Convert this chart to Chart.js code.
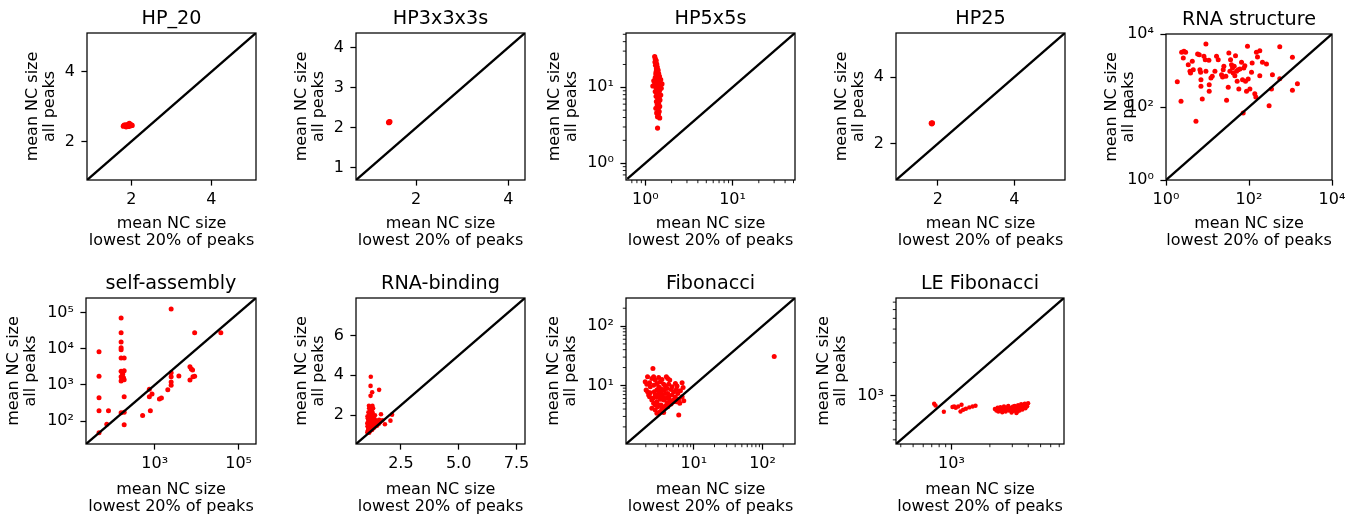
<!DOCTYPE html>
<html>
<head>
<meta charset="utf-8">
<script src="https://cdn.jsdelivr.net/npm/chart.js@4.4.1/dist/chart.umd.min.js"></script>
<style>
  html, body { margin: 0; padding: 0; background: #fff; }
  #fig { position: relative; width: 1359px; height: 517px; overflow: hidden; background: #fff; }
  #fig canvas { position: absolute; }
</style>
</head>
<body>
<div id="fig"></div>
<script>
// ---------------- data: mean NC size, lowest 20% of peaks (x) vs all peaks (y) ----------------
const hp20X = [1.80, 1.82, 1.84, 1.86, 1.88, 1.90, 1.92, 1.94, 1.96, 1.98, 2.00, 2.02, 1.87, 1.93, 1.95];
const hp20Y = [2.44, 2.47, 2.45, 2.48, 2.44, 2.46, 2.49, 2.47, 2.50, 2.45, 2.48, 2.46, 2.42, 2.43, 2.52];

const hp333X = [1.42, 1.43, 1.41];
const hp333Y = [2.14, 2.15, 2.13];

const hp5X = [1.28, 1.30, 1.33, 1.29, 1.35, 1.31, 1.37, 1.34, 1.40, 1.33, 1.42, 1.36, 1.45, 1.30, 1.39, 1.50, 1.25,
  1.44, 1.35, 1.55, 1.28, 1.41, 1.22, 1.48, 1.33, 1.52, 1.38, 1.45, 1.30, 1.42, 1.36, 1.50, 1.33, 1.44, 1.39, 1.47,
  1.34, 1.42, 1.37, 1.46, 1.32, 1.40, 1.44, 1.35, 1.41, 1.38, 1.46, 1.36, 1.43, 1.32, 1.38];
const hp5Y = [25.5, 23.8, 22.5, 21.5, 20.2, 19.5, 18.5, 17.6, 16.8, 16.0, 15.2, 14.4, 13.9, 13.4, 13.1, 12.6, 12.2,
  11.8, 11.4, 11.1, 10.9, 10.7, 10.4, 10.2, 9.9, 9.7, 9.3, 9.0, 8.8, 8.5, 8.2, 7.9, 7.6, 7.4, 7.1, 6.8,
  6.5, 6.2, 5.9, 5.6, 5.3, 5.1, 4.8, 4.6, 4.4, 4.1, 3.95, 12.0, 10.0, 15.0, 2.9];

const hp25X = [1.83, 1.85, 1.84];
const hp25Y = [2.61, 2.62, 2.60];

const rnaStructX = [1.87, 2.30, 2.38, 2.61, 2.71, 2.97, 3.44, 3.78, 3.90, 4.30,
  4.54, 5.27, 5.78, 6.33, 6.57, 6.82, 6.95, 6.95, 7.48, 8.20,
  9.16, 9.16, 8.83, 10.8, 11.0, 11.0, 12.1, 13.0, 15.1, 16.5,
  18.1, 21.8, 23.1, 23.9, 24.8, 27.7, 28.8, 31.6, 32.7, 34.6,
  35.9, 37.9, 40.1, 41.6, 44.0, 45.6, 47.3, 50.1, 51.9, 54.9,
  56.9, 60.2, 66.0, 69.8, 72.4, 75.1, 79.4, 82.4, 87.1, 92.0,
  95.5, 105, 115, 119, 138, 146, 151, 160, 182, 182,
  211, 264, 305, 348, 367, 551, 551, 1112, 1112, 1467];
const rnaStructY = [494, 143, 3147, 2200, 3350, 3147, 1445, 949, 855, 1783,
  1054, 41, 2832, 2716, 1054, 891, 561, 368, 166, 2443,
  5321, 949, 1982, 1900, 409, 269, 623, 692, 949, 2443,
  1982, 769, 664, 1054, 1300, 692, 152, 346, 3016, 949,
  1982, 1445, 1171, 855, 1300, 722, 2548, 949, 505, 1054,
  311, 1099, 1675, 561, 68, 1171, 1357, 505, 269, 4592,
  585, 311, 891, 1605, 232, 188, 3147, 2344, 3494, 722,
  1675, 1507, 109, 311, 769, 4500, 597, 2295, 286, 436];

const selfAsmX = [47, 47, 47, 47, 47, 79, 72, 158, 158, 158, 158, 158, 158, 187,
  158, 187, 172, 158, 180, 165, 158, 187, 172, 187, 187, 158, 187,
  2466, 8960, 37700, 745, 745, 863, 787, 515, 1294, 1445, 2051,
  2466, 2466, 2466, 2466, 3767, 6918, 7447, 8000, 6918, 8166, 8960];
const selfAsmY = [8370, 1738, 443, 192, 47, 192, 81, 72800, 28300, 15700, 10800, 9500, 5620, 5620,
  2400, 2500, 1970, 1700, 1600, 1440, 1295, 1400, 2100, 473, 176, 169, 79,
  128000, 28300, 28300, 766, 473, 559, 192, 143, 408, 434, 735,
  2188, 1700, 1216, 986, 1775, 3190, 2800, 2600, 1377, 1700, 1750];

const rnaBindX = [1.20, 1.19, 1.26, 1.19, 1.56, 1.12, 1.27, 1.64, 2.12, 2.05, 1.81, 1.56,
  1.05, 1.08, 1.10, 1.06, 1.12, 1.09, 1.14, 1.07, 1.11, 1.15, 1.10, 1.18, 1.22,
  1.16, 1.20, 1.18, 1.22, 1.19, 1.24, 1.21, 1.26, 1.23, 1.28, 1.25, 1.30,
  1.28, 1.32, 1.30, 1.34, 1.31, 1.36, 1.33, 1.38, 1.40, 1.43, 1.45, 1.42,
  1.48, 1.52, 1.55, 1.60, 1.35, 1.13, 1.25, 1.17, 1.13, 1.09, 1.15, 1.27,
  1.37, 1.46, 1.70, 1.20, 1.05, 1.06];
const rnaBindY = [3.93, 3.47, 3.15, 2.97, 3.27, 2.47, 2.47, 2.05, 2.03, 1.73, 1.55, 1.77,
  1.15, 1.25, 1.35, 1.45, 1.55, 1.65, 1.75, 1.85, 1.95, 2.05, 2.15, 2.25, 2.40,
  1.20, 1.30, 1.42, 1.52, 1.62, 1.72, 1.82, 1.92, 2.02, 2.12, 2.22, 2.35,
  1.32, 1.40, 1.50, 1.60, 1.70, 1.80, 1.90, 2.00, 1.45, 1.55, 1.65, 1.75,
  1.50, 1.60, 1.58, 1.65, 1.38, 1.12, 1.26, 1.92, 2.35, 1.78, 1.48, 1.60,
  1.52, 1.48, 1.75, 2.10, 1.60, 1.95];

const fibX = [2.54, 2.12, 2.27, 2.07, 2.45, 2.60, 2.75, 2.90, 3.08, 3.25, 3.44, 3.64, 3.98, 4.17, 4.46, 4.31,
  5.39, 5.70, 6.75, 6.98, 6.38, 5.83, 5.09, 4.66, 4.07, 3.72, 3.25, 2.90, 2.66, 2.32, 2.12, 2.27,
  2.54, 2.75, 3.08, 3.44, 3.85, 4.31, 4.82, 5.39, 6.03, 6.75, 7.14, 6.24, 5.09, 4.56, 4.07, 3.64,
  3.25, 2.90, 2.60, 2.45, 2.75, 2.97, 3.33, 3.72, 4.17, 4.66, 5.58, 3.64, 3.25, 2.90, 6.03, 3.85,
  5.09, 148, 2.32, 2.60, 3.08, 3.44, 3.85, 4.82, 2.85, 3.19, 3.56, 3.98, 4.46, 3.08, 3.44, 2.75,
  2.45, 2.20, 2.02, 1.96, 3.33, 4.17, 5.58];
const fibY = [19.3, 13.97, 11.1, 10.5, 13.1, 14.0, 12.3, 10.8, 13.6, 11.5, 12.6, 10.5, 14.0, 13.1, 12.3, 10.5,
  10.8, 9.75, 11.1, 9.26, 8.14, 7.34, 7.83, 8.57, 8.91, 8.35, 8.91, 8.35, 7.83, 7.53, 7.83, 6.46,
  6.05, 6.89, 7.34, 6.89, 7.34, 6.46, 6.89, 6.29, 5.82, 6.46, 5.53, 4.99, 5.32, 4.99, 5.12, 5.68,
  5.82, 5.32, 4.99, 4.12, 3.86, 4.39, 4.68, 4.12, 4.39, 4.87, 5.32, 3.48, 3.62, 3.40, 3.18, 4.51,
  5.68, 30.6, 9.5, 10.1, 9.5, 8.57, 9.75, 9.5, 6.29, 6.62, 6.29, 6.05, 5.68, 4.68, 4.12, 4.68,
  5.68, 6.89, 8.35, 11.5, 7.83, 7.34, 8.57];

const leFibX = [731, 749, 871, 1018, 1049, 1081, 1199, 1177, 1235, 1297, 1378, 1463, 1543, 1128,
  2190, 2250, 2300, 2330, 2380, 2420, 2470, 2500, 2540, 2580, 2620, 2660, 2700, 2740, 2790, 2820,
  2860, 2900, 2960, 3000, 3050, 3100, 3140, 3180, 3230, 3280, 3330, 3380, 3420, 3470, 3520, 3550,
  3600, 3650, 3700, 3760, 3800, 3860, 3920, 3990, 3300, 3450, 2640, 2950, 3150, 3700, 3580, 2430,
  3050, 3250];
const leFibY = [847, 818, 717, 791, 801, 780, 830, 721, 747, 764, 785, 801, 813, 801,
  760, 735, 780, 720, 755, 790, 740, 710, 770, 800, 745, 720, 785, 760, 810, 735,
  775, 750, 705, 790, 730, 770, 810, 745, 700, 780, 820, 760, 735, 800, 840, 775,
  750, 815, 790, 850, 770, 830, 805, 855, 720, 760, 770, 760, 740, 830, 805, 760,
  800, 750];

// ---------------- tick values and labels ----------------
const hp20Ticks = [2, 4];
const hp20TickLabels = ['2', '4'];
const hp333XTicks = [2, 4];
const hp333XTickLabels = ['2', '4'];
const hp333YTicks = [1, 2, 3, 4];
const hp333YTickLabels = ['1', '2', '3', '4'];
const hp5Ticks = [1, 10];
const hp5TickLabels = ['10⁰', '10¹'];
const hp5MinorTicks = [0.7, 0.8, 0.9, 2, 3, 4, 5, 6, 7, 8, 9, 20, 30, 40, 50];
const hp25Ticks = [2, 4];
const hp25TickLabels = ['2', '4'];
const rnaStructTicks = [1, 100, 10000];
const rnaStructTickLabels = ['10⁰', '10²', '10⁴'];
const selfAsmXTicks = [1000, 100000];
const selfAsmXTickLabels = ['10³', '10⁵'];
const selfAsmYTicks = [100, 1000, 10000, 100000];
const selfAsmYTickLabels = ['10²', '10³', '10⁴', '10⁵'];
const rnaBindXTicks = [2.5, 5, 7.5];
const rnaBindXTickLabels = ['2.5', '5.0', '7.5'];
const rnaBindYTicks = [2, 4, 6];
const rnaBindYTickLabels = ['2', '4', '6'];
const fibTicks = [10, 100];
const fibTickLabels = ['10¹', '10²'];
const fibMinorTicks = [2, 3, 4, 5, 6, 7, 8, 9, 20, 30, 40, 50, 60, 70, 80, 90, 200];
const leFibTicks = [1000];
const leFibTickLabels = ['10³'];
const leFibMinorTicks = [400, 500, 600, 700, 800, 900, 2000, 3000, 4000, 5000, 6000, 7000];

const xTitle = ['mean NC size', 'lowest 20% of peaks'];
const yTitle = ['mean NC size', 'all peaks'];

// ---------------- panels ----------------
const panels = [
  { title: 'HP_20', log: false, min: 0.89, max: 5.12, x: hp20X, y: hp20Y,
    xTicks: hp20Ticks, xLabels: hp20TickLabels, yTicks: hp20Ticks, yLabels: hp20TickLabels,
    left: 87, top: 33, w: 169, h: 147, wy: 63, hx: 70, r: 2.6 },
  { title: 'HP3x3x3s', log: false, min: 0.70, max: 4.36, x: hp333X, y: hp333Y,
    xTicks: hp333XTicks, xLabels: hp333XTickLabels, yTicks: hp333YTicks, yLabels: hp333YTickLabels,
    left: 356, top: 33, w: 169, h: 147, wy: 63, hx: 70, r: 2.8 },
  { title: 'HP5x5s', log: true, min: 0.62, max: 52, x: hp5X, y: hp5Y,
    xTicks: hp5Ticks, xLabels: hp5TickLabels, yTicks: hp5Ticks, yLabels: hp5TickLabels,
    minorX: hp5MinorTicks, minorY: hp5MinorTicks,
    left: 626, top: 33, w: 169, h: 147, wy: 80, hx: 70, r: 2.6 },
  { title: 'HP25', log: false, min: 0.90, max: 5.33, x: hp25X, y: hp25Y,
    xTicks: hp25Ticks, xLabels: hp25TickLabels, yTicks: hp25Ticks, yLabels: hp25TickLabels,
    left: 896, top: 33, w: 169, h: 147, wy: 63, hx: 70, r: 2.8 },
  { title: 'RNA structure', log: true, min: 1, max: 10000, x: rnaStructX, y: rnaStructY,
    xTicks: rnaStructTicks, xLabels: rnaStructTickLabels, yTicks: rnaStructTicks, yLabels: rnaStructTickLabels,
    left: 1166, top: 34, w: 166, h: 146, wy: 63, hx: 70, r: 2.5 },
  { title: 'self-assembly', log: true, min: 23, max: 260000, x: selfAsmX, y: selfAsmY,
    xTicks: selfAsmXTicks, xLabels: selfAsmXTickLabels, yTicks: selfAsmYTicks, yLabels: selfAsmYTickLabels,
    left: 86, top: 298, w: 170, h: 146, wy: 81, hx: 72, r: 2.5 },
  { title: 'RNA-binding', log: false, min: 0.56, max: 7.87, x: rnaBindX, y: rnaBindY,
    xTicks: rnaBindXTicks, xLabels: rnaBindXTickLabels, yTicks: rnaBindYTicks, yLabels: rnaBindYTickLabels,
    left: 356, top: 298, w: 169, h: 146, wy: 63, hx: 72, r: 2.3 },
  { title: 'Fibonacci', log: true, min: 1.03, max: 297, x: fibX, y: fibY,
    xTicks: fibTicks, xLabels: fibTickLabels, yTicks: fibTicks, yLabels: fibTickLabels,
    minorX: fibMinorTicks, minorY: fibMinorTicks,
    left: 626, top: 298, w: 169, h: 146, wy: 81, hx: 72, r: 2.5 },
  { title: 'LE Fibonacci', log: true, min: 367, max: 7630, x: leFibX, y: leFibY,
    xTicks: leFibTicks, xLabels: leFibTickLabels, yTicks: leFibTicks, yLabels: leFibTickLabels,
    minorX: leFibMinorTicks, minorY: leFibMinorTicks,
    left: 896, top: 298, w: 168, h: 146, wy: 81, hx: 72, r: 2.2 }
];

// ---------------- drawing ----------------
Chart.defaults.font.family = "'DejaVu Sans', sans-serif";
Chart.defaults.color = '#000';

const TITLE_H = 25;   // 22px line + 3px gap under the title
const RIGHT_PAD = 22;
const TICK_LEN = 5.6;

// full box around the plotting area
const framePlugin = {
  id: 'frame',
  afterDatasetsDraw(chart) {
    const { ctx, chartArea: a } = chart;
    ctx.save();
    ctx.strokeStyle = '#000';
    ctx.lineWidth = 1.25;
    ctx.strokeRect(a.left, a.top, a.right - a.left, a.bottom - a.top);
    ctx.restore();
  }
};

// short unlabeled ticks between decades on log axes
const minorTicksPlugin = {
  id: 'minorTicks',
  afterDraw(chart, args, opts) {
    const { ctx, chartArea: a, scales } = chart;
    ctx.save();
    ctx.strokeStyle = '#000';
    ctx.lineWidth = 0.9;
    ctx.beginPath();
    (opts.x || []).forEach(v => {
      const px = scales.x.getPixelForValue(v);
      if (px < a.left - 0.5 || px > a.right + 0.5) return;
      ctx.moveTo(px, a.bottom);
      ctx.lineTo(px, a.bottom + 3.2);
    });
    (opts.y || []).forEach(v => {
      const py = scales.y.getPixelForValue(v);
      if (py < a.top - 0.5 || py > a.bottom + 0.5) return;
      ctx.moveTo(a.left, py);
      ctx.lineTo(a.left - 3.2, py);
    });
    ctx.stroke();
    ctx.restore();
  }
};

function axisOptions(p, isX) {
  const ticks = isX ? p.xTicks : p.yTicks;
  const labels = isX ? p.xLabels : p.yLabels;
  return {
    type: p.log ? 'logarithmic' : 'linear',
    position: isX ? 'bottom' : 'left',
    min: p.min,
    max: p.max,
    afterBuildTicks: s => { s.ticks = ticks.map(v => ({ value: v })); },
    afterFit: s => { if (isX) s.height = p.hx; else s.width = p.wy; },
    ticks: {
      callback: (v, i) => labels[i],
      font: { size: 16 },
      color: '#000',
      padding: isX ? 4.5 : 6.5,
      maxRotation: 0,
      autoSkip: false
    },
    grid: {
      display: true,
      drawOnChartArea: false,
      drawTicks: true,
      tickLength: TICK_LEN,
      tickColor: '#000',
      tickWidth: 1.25
    },
    border: { display: false },
    title: {
      display: true,
      text: isX ? xTitle : yTitle,
      font: { size: 16, lineHeight: '17.5px' },
      color: '#000',
      padding: 0
    }
  };
}

const fig = document.getElementById('fig');

panels.forEach(p => {
  const canvas = document.createElement('canvas');
  const W = p.wy + p.w + RIGHT_PAD;
  const H = TITLE_H + p.h + p.hx;
  canvas.width = W;
  canvas.height = H;
  canvas.style.width = W + 'px';
  canvas.style.height = H + 'px';
  canvas.style.left = (p.left - p.wy) + 'px';
  canvas.style.top = (p.top - TITLE_H) + 'px';
  fig.appendChild(canvas);

  const points = p.x.map((v, i) => ({ x: v, y: p.y[i] }));

  new Chart(canvas, {
    type: 'scatter',
    data: {
      datasets: [
        {
          type: 'line',
          data: [{ x: p.min, y: p.min }, { x: p.max, y: p.max }],
          borderColor: '#000',
          borderWidth: 2.4,
          pointRadius: 0,
          fill: false,
          order: 0,
          clip: 0
        },
        {
          data: points,
          backgroundColor: '#ff0000',
          borderWidth: 0,
          pointRadius: p.r,
          pointHoverRadius: p.r,
          order: 1
        }
      ]
    },
    options: {
      responsive: false,
      animation: false,
      devicePixelRatio: 1,
      events: [],
      layout: { padding: { left: 0, top: 0, right: RIGHT_PAD, bottom: 0 } },
      plugins: {
        legend: { display: false },
        tooltip: { enabled: false },
        title: {
          display: true,
          text: p.title,
          fullSize: false,
          color: '#000',
          font: { size: 19.2, weight: 'normal', lineHeight: '22px' },
          padding: { top: 0, bottom: 3 }
        },
        minorTicks: { x: p.minorX || [], y: p.minorY || [] }
      },
      scales: {
        x: axisOptions(p, true),
        y: axisOptions(p, false)
      }
    },
    plugins: [framePlugin, minorTicksPlugin]
  });
});
</script>
</body>
</html>
